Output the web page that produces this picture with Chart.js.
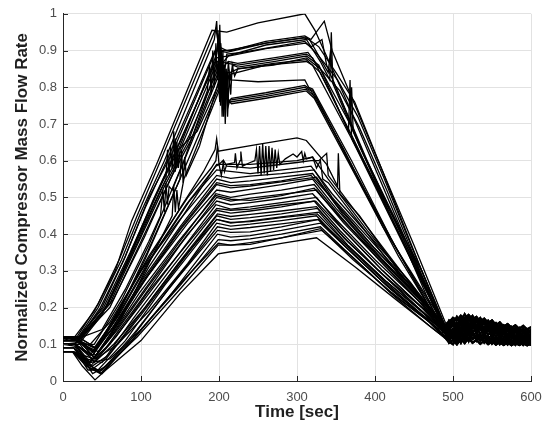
<!DOCTYPE html>
<html lang="en">
<head>
  <meta charset="UTF-8" />
  <title>Normalized Compressor Mass Flow Rate</title>
  <script src="https://cdn.jsdelivr.net/npm/chart.js"></script>
  <style>
    body { margin: 0; background: #fff; }
    .wrap { width: 551px; height: 432px; }
  </style>
</head>
<body>
  <div class="wrap"><canvas id="flowChart" width="551" height="432"></canvas></div>

  <script>
    // time axis of the noisy tail after the ramp down (sec)
    const tailTimes = [495, 500, 505, 510, 515, 520, 525, 530, 535, 540, 545, 550, 555, 560, 565, 570, 575, 580, 585, 590, 595, 600];

    const tailA = [0.16, 0.172, 0.165, 0.178, 0.17, 0.18, 0.168, 0.175, 0.162, 0.17, 0.158, 0.165, 0.152, 0.16, 0.148, 0.155, 0.145, 0.152, 0.142, 0.15, 0.14, 0.147];
    const tailB = [0.15, 0.16, 0.148, 0.165, 0.155, 0.17, 0.155, 0.163, 0.15, 0.158, 0.146, 0.154, 0.142, 0.15, 0.138, 0.146, 0.134, 0.142, 0.13, 0.14, 0.128, 0.138];
    const tailC = [0.14, 0.152, 0.138, 0.155, 0.142, 0.158, 0.144, 0.152, 0.14, 0.148, 0.136, 0.144, 0.132, 0.14, 0.128, 0.137, 0.126, 0.134, 0.122, 0.132, 0.12, 0.128];
    const tailD = [0.13, 0.142, 0.128, 0.145, 0.132, 0.148, 0.134, 0.142, 0.13, 0.138, 0.126, 0.134, 0.122, 0.13, 0.118, 0.127, 0.116, 0.124, 0.113, 0.122, 0.11, 0.118];
    const tailE = [0.12, 0.133, 0.118, 0.135, 0.122, 0.138, 0.124, 0.132, 0.12, 0.128, 0.116, 0.125, 0.113, 0.121, 0.11, 0.118, 0.107, 0.116, 0.105, 0.114, 0.103, 0.112];
    const tailF = [0.11, 0.124, 0.108, 0.125, 0.112, 0.128, 0.114, 0.122, 0.11, 0.118, 0.107, 0.116, 0.104, 0.113, 0.102, 0.11, 0.1, 0.108, 0.099, 0.107, 0.098, 0.105];
    const tailG = [0.104, 0.112, 0.1, 0.115, 0.103, 0.118, 0.104, 0.112, 0.101, 0.11, 0.1, 0.108, 0.099, 0.106, 0.098, 0.105, 0.097, 0.104, 0.098, 0.103, 0.097, 0.102];
    const tailH = [0.135, 0.125, 0.148, 0.13, 0.16, 0.14, 0.165, 0.145, 0.155, 0.135, 0.15, 0.13, 0.145, 0.125, 0.14, 0.12, 0.135, 0.118, 0.13, 0.115, 0.128, 0.112];
    const tailI = [0.125, 0.115, 0.138, 0.12, 0.15, 0.128, 0.152, 0.13, 0.145, 0.125, 0.14, 0.12, 0.135, 0.115, 0.13, 0.11, 0.126, 0.108, 0.122, 0.106, 0.12, 0.104];
    const tailJ = [0.145, 0.16, 0.13, 0.17, 0.14, 0.175, 0.15, 0.165, 0.145, 0.16, 0.14, 0.15, 0.135, 0.145, 0.13, 0.14, 0.125, 0.135, 0.12, 0.132, 0.118, 0.13];
    const tailK = [0.155, 0.165, 0.15, 0.172, 0.16, 0.176, 0.162, 0.17, 0.155, 0.165, 0.15, 0.158, 0.145, 0.152, 0.14, 0.148, 0.137, 0.145, 0.133, 0.142, 0.13, 0.14];
    const tailL = [0.115, 0.128, 0.112, 0.13, 0.118, 0.132, 0.115, 0.125, 0.112, 0.12, 0.108, 0.118, 0.105, 0.114, 0.103, 0.112, 0.1, 0.11, 0.1, 0.108, 0.099, 0.106];
    const tailM = [0.128, 0.118, 0.14, 0.125, 0.152, 0.132, 0.158, 0.138, 0.15, 0.13, 0.145, 0.126, 0.14, 0.122, 0.136, 0.118, 0.132, 0.114, 0.128, 0.11, 0.125, 0.108];
    const tailN = [0.142, 0.13, 0.158, 0.14, 0.168, 0.148, 0.17, 0.15, 0.162, 0.14, 0.155, 0.135, 0.15, 0.13, 0.145, 0.125, 0.14, 0.12, 0.136, 0.118, 0.134, 0.116];
    const tailO = [0.108, 0.1, 0.12, 0.104, 0.13, 0.108, 0.135, 0.11, 0.128, 0.105, 0.122, 0.102, 0.118, 0.1, 0.115, 0.099, 0.112, 0.098, 0.11, 0.098, 0.108, 0.097];
    const tailP = [0.165, 0.155, 0.175, 0.16, 0.182, 0.165, 0.178, 0.16, 0.172, 0.155, 0.165, 0.15, 0.158, 0.145, 0.152, 0.14, 0.148, 0.135, 0.145, 0.132, 0.142, 0.13];

    // runs that peak at 0.75 - 1.0 ([time, value] pairs up to ~490 s)
    const highRuns = [
      [[0,0.11],[15,0.12],[40,0.19],[67,0.30],[88,0.436],[120,0.59],[191,0.955],[210,0.95],[250,0.975],[310,1.0],[323,0.955],[360,0.78],[400,0.58],[450,0.33],[488,0.15]],
      [[0,0.12],[20,0.12],[45,0.2],[75,0.33],[100,0.46],[130,0.6],[194,0.93],[197,0.98],[199,0.9],[205,0.9],[215,0.9],[260,0.925],[310,0.94],[318,0.93],[335,0.98],[345,0.9],[400,0.62],[450,0.37],[490,0.16]],
      [[0,0.11],[18,0.11],[50,0.2],[80,0.34],[110,0.5],[140,0.62],[196,0.9],[210,0.895],[260,0.92],[312,0.935],[328,0.91],[350,0.84],[374,0.76],[410,0.57],[445,0.38],[490,0.14]],
      [[0,0.10],[20,0.1],[50,0.18],[85,0.34],[115,0.49],[150,0.65],[197,0.88],[210,0.885],[260,0.915],[312,0.93],[330,0.87],[342,0.82],[344,0.95],[346,0.81],[380,0.64],[420,0.46],[460,0.28],[491,0.13]],
      [[0,0.12],[22,0.12],[55,0.2],[90,0.36],[125,0.52],[140,0.58],[142,0.68],[144,0.57],[146,0.65],[148,0.58],[150,0.63],[160,0.68],[198,0.87],[224,0.86],[270,0.875],[312,0.89],[320,0.88],[370,0.67],[420,0.45],[460,0.27],[490,0.15]],
      [[0,0.11],[20,0.115],[60,0.21],[95,0.37],[130,0.53],[160,0.65],[185,0.79],[188,0.86],[190,0.78],[192,0.9],[194,0.8],[196,0.92],[198,0.82],[200,0.88],[202,0.78],[204,0.86],[206,0.76],[208,0.84],[210,0.8],[212,0.87],[214,0.82],[218,0.86],[224,0.855],[270,0.87],[312,0.885],[328,0.86],[366,0.68],[368,0.82],[370,0.66],[430,0.4],[490,0.14]],
      [[0,0.1],[15,0.1],[60,0.2],[100,0.38],[140,0.56],[165,0.66],[199,0.84],[201,0.97],[203,0.8],[205,0.9],[207,0.74],[209,0.85],[211,0.72],[213,0.83],[215,0.78],[217,0.86],[220,0.83],[224,0.85],[270,0.865],[312,0.875],[330,0.84],[385,0.6],[440,0.36],[489,0.12]],
      [[0,0.12],[25,0.12],[50,0.14],[80,0.25],[110,0.38],[125,0.45],[128,0.52],[130,0.46],[132,0.54],[134,0.48],[136,0.53],[140,0.52],[165,0.65],[199,0.83],[201,0.88],[203,0.79],[205,0.86],[207,0.8],[209,0.85],[211,0.81],[213,0.84],[215,0.82],[250,0.815],[310,0.82],[315,0.80],[320,0.795],[370,0.6],[420,0.39],[488,0.13]],
      [[0,0.11],[20,0.11],[40,0.09],[70,0.18],[105,0.33],[150,0.55],[200,0.8],[202,0.9],[204,0.72],[206,0.86],[208,0.7],[210,0.82],[212,0.75],[214,0.765],[260,0.78],[310,0.80],[318,0.79],[360,0.63],[410,0.42],[460,0.25],[490,0.15]],
      [[0,0.1],[20,0.105],[45,0.08],[75,0.17],[110,0.32],[140,0.45],[142,0.53],[144,0.46],[146,0.52],[148,0.47],[155,0.55],[200,0.79],[216,0.755],[260,0.77],[312,0.79],[322,0.77],[375,0.56],[430,0.34],[490,0.13]],
      [[0,0.115],[18,0.12],[45,0.21],[72,0.33],[95,0.45],[125,0.6],[192,0.94],[196,0.96],[200,0.91],[210,0.9],[260,0.92],[308,0.935],[316,0.93],[340,0.84],[343,0.9],[346,0.82],[390,0.6],[440,0.37],[489,0.14]],
      [[0,0.12],[20,0.115],[48,0.2],[78,0.33],[105,0.47],[135,0.61],[195,0.9],[198,0.84],[202,0.92],[206,0.82],[210,0.89],[230,0.895],[270,0.91],[310,0.925],[326,0.89],[352,0.82],[378,0.72],[412,0.55],[448,0.36],[490,0.15]],
      [[0,0.11],[22,0.11],[52,0.19],[84,0.33],[112,0.47],[145,0.63],[196,0.87],[199,0.93],[201,0.8],[203,0.88],[205,0.78],[207,0.86],[212,0.87],[224,0.865],[270,0.88],[314,0.895],[330,0.85],[368,0.7],[370,0.8],[372,0.68],[420,0.45],[490,0.14]],
      [[0,0.1],[18,0.1],[40,0.1],[75,0.22],[110,0.37],[155,0.6],[198,0.86],[201,0.76],[204,0.88],[207,0.75],[210,0.84],[214,0.84],[224,0.85],[270,0.86],[312,0.88],[330,0.85],[355,0.79],[380,0.69],[415,0.52],[450,0.34],[490,0.13]],
      [[0,0.12],[24,0.12],[58,0.21],[96,0.38],[132,0.55],[134,0.63],[136,0.56],[138,0.64],[140,0.58],[162,0.67],[199,0.85],[202,0.92],[204,0.79],[206,0.86],[208,0.74],[210,0.82],[214,0.835],[260,0.86],[312,0.87],[320,0.86],[360,0.7],[410,0.5],[460,0.3],[490,0.15]],
      [[0,0.11],[20,0.11],[42,0.09],[72,0.19],[108,0.35],[150,0.55],[152,0.63],[154,0.54],[156,0.61],[158,0.56],[175,0.64],[200,0.82],[202,0.75],[204,0.84],[206,0.72],[208,0.8],[212,0.76],[216,0.77],[260,0.785],[310,0.805],[320,0.79],[372,0.58],[425,0.37],[489,0.13]],
      [[0,0.1],[15,0.1],[64,0.22],[104,0.39],[142,0.57],[144,0.66],[146,0.58],[148,0.63],[172,0.68],[200,0.81],[203,0.86],[205,0.74],[207,0.8],[211,0.77],[214,0.76],[260,0.775],[312,0.795],[325,0.77],[378,0.55],[430,0.35],[490,0.14]],
      [[0,0.115],[20,0.12],[52,0.2],[86,0.35],[118,0.5],[150,0.64],[197,0.89],[200,0.95],[202,0.86],[212,0.885],[260,0.905],[311,0.92],[318,0.91],[332,0.93],[338,0.86],[385,0.62],[440,0.38],[490,0.15]]
    ];

    // runs that level out near 0.6
    const midRuns = [
      [[0,0.1],[15,0.1],[35,0.07],[60,0.15],[100,0.3],[150,0.47],[180,0.57],[195,0.63],[197,0.66],[199,0.626],[248,0.644],[300,0.662],[312,0.655],[338,0.59],[352,0.53],[353,0.62],[355,0.51],[380,0.45],[430,0.3],[490,0.14]],
      [[0,0.12],[20,0.11],[40,0.08],[70,0.19],[110,0.34],[160,0.5],[190,0.58],[196,0.6],[198,0.64],[200,0.59],[205,0.6],[207,0.57],[210,0.59],[220,0.595],[221,0.62],[223,0.58],[227,0.6],[228,0.625],[230,0.585],[240,0.595],[246,0.6],[248,0.63],[250,0.565],[252,0.64],[254,0.56],[256,0.645],[258,0.565],[260,0.64],[262,0.56],[264,0.64],[266,0.57],[268,0.635],[270,0.575],[272,0.63],[274,0.58],[276,0.62],[278,0.59],[285,0.605],[295,0.618],[300,0.61],[306,0.625],[308,0.6],[310,0.62],[312,0.605],[320,0.61],[325,0.58],[330,0.6],[333,0.55],[340,0.54],[380,0.43],[430,0.29],[490,0.15]],
      [[0,0.08],[12,0.08],[40,0.06],[70,0.16],[110,0.31],[160,0.47],[197,0.59],[240,0.59],[300,0.6],[320,0.61],[340,0.55],[390,0.41],[440,0.28],[490,0.15]],
      [[0,0.1],[16,0.1],[38,0.07],[68,0.17],[108,0.32],[158,0.48],[196,0.585],[200,0.59],[203,0.56],[206,0.6],[210,0.585],[240,0.58],[300,0.595],[318,0.6],[328,0.6],[338,0.62],[340,0.56],[390,0.42],[440,0.28],[489,0.14]],
      [[0,0.12],[20,0.12],[42,0.09],[72,0.18],[112,0.33],[162,0.49],[197,0.575],[240,0.565],[300,0.58],[318,0.585],[345,0.51],[395,0.39],[445,0.27],[490,0.14]]
    ];

    // runs that level out between 0.35 and 0.57
    const lowRuns = [
      [[0,0.12],[18,0.12],[35,0.1],[60,0.16],[100,0.3],[150,0.44],[197,0.56],[215,0.552],[240,0.558],[280,0.565],[322,0.575],[345,0.5],[400,0.37],[450,0.25],[490,0.15]],
      [[0,0.1],[15,0.1],[38,0.07],[65,0.15],[100,0.27],[150,0.42],[197,0.55],[215,0.54],[240,0.545],[280,0.555],[320,0.565],[350,0.48],[400,0.36],[450,0.25],[489,0.14]],
      [[0,0.08],[12,0.08],[35,0.05],[60,0.12],[100,0.26],[150,0.41],[197,0.535],[215,0.526],[240,0.531],[280,0.542],[325,0.555],[360,0.45],[410,0.33],[460,0.22],[490,0.14]],
      [[0,0.11],[20,0.11],[40,0.08],[70,0.16],[110,0.29],[160,0.43],[197,0.52],[215,0.514],[240,0.522],[280,0.535],[320,0.55],[350,0.47],[400,0.35],[450,0.24],[488,0.15]],
      [[0,0.1],[16,0.1],[38,0.06],[65,0.13],[105,0.25],[150,0.38],[196,0.51],[215,0.5],[240,0.509],[280,0.52],[322,0.535],[355,0.45],[405,0.33],[455,0.22],[490,0.13]],
      [[0,0.08],[14,0.08],[32,0.05],[55,0.09],[100,0.22],[150,0.37],[197,0.5],[215,0.49],[240,0.498],[280,0.508],[325,0.52],[360,0.43],[410,0.32],[460,0.21],[490,0.14]],
      [[0,0.12],[20,0.115],[42,0.07],[70,0.14],[110,0.26],[160,0.4],[197,0.49],[215,0.48],[240,0.486],[280,0.497],[320,0.51],[350,0.44],[400,0.33],[450,0.23],[489,0.15]],
      [[0,0.1],[15,0.1],[35,0.04],[60,0.1],[100,0.21],[150,0.35],[196,0.48],[215,0.468],[240,0.474],[280,0.486],[325,0.5],[360,0.41],[410,0.3],[460,0.2],[490,0.13]],
      [[0,0.08],[13,0.08],[30,0.06],[50,0.05],[90,0.17],[140,0.31],[197,0.465],[215,0.457],[240,0.463],[280,0.474],[322,0.49],[355,0.41],[405,0.3],[455,0.2],[488,0.14]],
      [[0,0.11],[18,0.11],[40,0.05],[65,0.1],[105,0.2],[155,0.34],[198,0.455],[215,0.448],[240,0.454],[280,0.463],[325,0.475],[360,0.39],[410,0.29],[460,0.2],[490,0.15]],
      [[0,0.1],[16,0.1],[36,0.03],[55,0.06],[100,0.18],[150,0.32],[197,0.45],[215,0.44],[240,0.445],[280,0.455],[326,0.47],[365,0.38],[415,0.28],[460,0.19],[490,0.12]],
      [[0,0.08],[12,0.08],[28,0.05],[45,0.03],[80,0.11],[130,0.26],[197,0.44],[215,0.43],[240,0.436],[280,0.447],[328,0.46],[365,0.37],[415,0.27],[465,0.18],[490,0.13]],
      [[0,0.12],[20,0.11],[42,0.06],[70,0.1],[110,0.19],[160,0.32],[197,0.43],[215,0.422],[240,0.427],[280,0.437],[325,0.45],[360,0.37],[410,0.27],[460,0.18],[489,0.14]],
      [[0,0.1],[15,0.095],[38,0.02],[55,0.04],[95,0.14],[150,0.29],[198,0.42],[215,0.413],[240,0.418],[280,0.428],[327,0.44],[365,0.36],[415,0.26],[465,0.17],[490,0.12]],
      [[0,0.08],[12,0.08],[30,0.04],[48,0.02],[85,0.1],[140,0.24],[198,0.4],[215,0.392],[240,0.396],[280,0.41],[330,0.43],[370,0.35],[420,0.25],[465,0.17],[488,0.12]],
      [[0,0.1],[16,0.1],[35,0.05],[60,0.06],[100,0.14],[150,0.26],[199,0.385],[215,0.382],[240,0.387],[280,0.4],[330,0.42],[370,0.34],[420,0.24],[470,0.16],[490,0.13]],
      [[0,0.09],[14,0.09],[32,0.03],[50,0.03],[95,0.12],[150,0.25],[199,0.37],[215,0.37],[240,0.377],[280,0.39],[332,0.41],[375,0.33],[425,0.23],[470,0.15],[488,0.12]],
      [[0,0.08],[12,0.08],[25,0.04],[41,0.003],[55,0.03],[100,0.11],[150,0.238],[199,0.346],[215,0.352],[240,0.36],[280,0.375],[325,0.39],[375,0.31],[425,0.225],[470,0.15],[488,0.12]],
      [[0,0.11],[17,0.11],[37,0.08],[62,0.14],[102,0.27],[152,0.42],[197,0.54],[215,0.532],[240,0.535],[280,0.545],[318,0.56],[348,0.49],[400,0.36],[450,0.25],[490,0.14]],
      [[0,0.09],[14,0.09],[34,0.05],[58,0.11],[98,0.24],[148,0.38],[196,0.505],[215,0.495],[240,0.492],[280,0.505],[322,0.525],[358,0.44],[408,0.33],[458,0.22],[490,0.13]],
      [[0,0.12],[19,0.115],[41,0.06],[68,0.12],[108,0.24],[158,0.37],[197,0.47],[215,0.465],[240,0.468],[280,0.48],[324,0.49],[360,0.41],[410,0.3],[460,0.2],[489,0.14]],
      [[0,0.1],[15,0.1],[37,0.04],[58,0.07],[98,0.18],[148,0.32],[197,0.44],[215,0.432],[240,0.434],[280,0.445],[326,0.455],[365,0.37],[415,0.27],[465,0.18],[490,0.13]],
      [[0,0.08],[12,0.08],[29,0.05],[47,0.025],[82,0.1],[135,0.25],[198,0.41],[215,0.405],[240,0.406],[280,0.42],[328,0.44],[368,0.36],[418,0.26],[466,0.17],[489,0.12]],
      [[0,0.09],[14,0.09],[31,0.04],[50,0.02],[92,0.12],[148,0.26],[199,0.375],[215,0.37],[240,0.372],[280,0.39],[330,0.415],[372,0.33],[422,0.24],[470,0.16],[489,0.12]]
    ];

    const tails = [tailA, tailB, tailC, tailD, tailE, tailF, tailG, tailH, tailI, tailJ, tailK, tailL, tailM, tailN, tailO, tailP];
    const runs = highRuns.concat(midRuns, lowRuns);

    const datasets = runs.map((run, i) => {
      const tail = tails[i % tails.length];
      const body = run.map(p => ({ x: p[0], y: p[1] }));
      const rest = tailTimes.map((t, j) => ({ x: t, y: tail[j] }));
      return {
        data: body.concat(rest),
        showLine: true,
        borderColor: '#000',
        borderWidth: 1.3,
        pointRadius: 0,
        fill: false,
        tension: 0,
        segment: { borderWidth: ctx => (ctx.p0.parsed.x >= 488 ? 2 : undefined) }
      };
    });

    // matlab style ticks pointing into the axes
    const innerTicks = {
      id: 'innerTicks',
      afterDatasetsDraw(chart) {
        const { ctx, chartArea: a, scales: { x, y } } = chart;
        ctx.save();
        ctx.strokeStyle = '#262626';
        ctx.lineWidth = 1;
        ctx.beginPath();
        x.ticks.forEach(t => {
          const px = Math.round(x.getPixelForValue(t.value)) + 0.5;
          ctx.moveTo(px, a.bottom);
          ctx.lineTo(px, a.bottom - 5);
        });
        y.ticks.forEach(t => {
          const py = Math.round(y.getPixelForValue(t.value)) + 0.5;
          ctx.moveTo(a.left, py);
          ctx.lineTo(a.left + 5, py);
        });
        ctx.stroke();
        ctx.restore();
      }
    };

    const tickFont = { family: 'Liberation Sans, Arial, sans-serif', size: 13 };
    const titleFont = { family: 'Liberation Sans, Arial, sans-serif', size: 17, weight: 'bold' };

    new Chart(document.getElementById('flowChart'), {
      type: 'scatter',
      data: { datasets },
      options: {
        responsive: false,
        animation: false,
        events: [],
        layout: { padding: { top: 12, right: 20, left: 0, bottom: 0 } },
        plugins: { legend: { display: false }, tooltip: { enabled: false } },
        scales: {
          x: {
            type: 'linear',
            min: 0,
            max: 600,
            ticks: { stepSize: 100, color: '#4d4d4d', font: tickFont, padding: 9 },
            grid: { color: '#e2e2e2', drawTicks: false },
            border: { color: '#262626', width: 1 },
            title: { display: true, text: 'Time [sec]', color: '#1f1f1f', font: titleFont, padding: { top: 0, bottom: 9 } },
            afterFit: s => { s.height = 51; }
          },
          y: {
            min: 0,
            max: 1,
            ticks: { stepSize: 0.1, color: '#4d4d4d', font: tickFont, padding: 6, callback: v => String(Math.round(v * 10) / 10) },
            grid: { color: '#e2e2e2', drawTicks: false },
            border: { color: '#262626', width: 1 },
            title: { display: true, text: 'Normalized Compressor Mass Flow Rate', color: '#1f1f1f', font: titleFont, padding: { top: 12, bottom: 0 } },
            afterFit: s => { s.width = 63; }
          }
        }
      },
      plugins: [innerTicks]
    });
  </script>
</body>
</html>
